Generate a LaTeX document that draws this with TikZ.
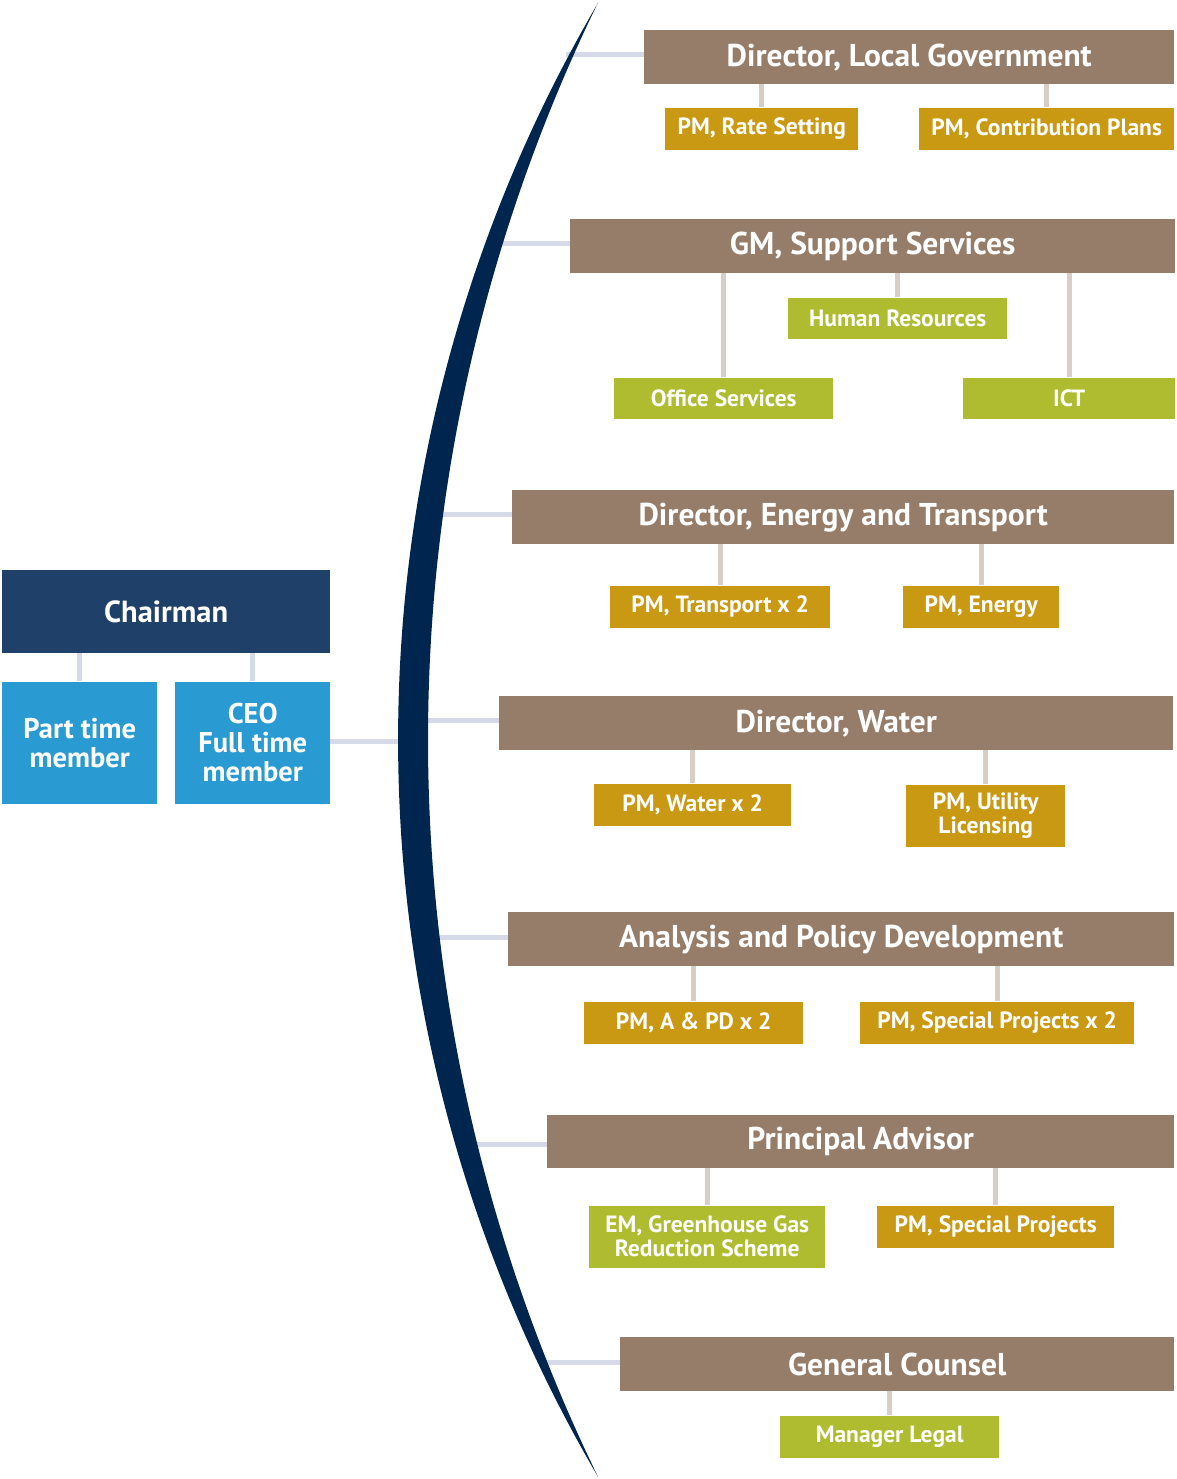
\documentclass[tikz,border=0pt]{standalone}
\usepackage{fontspec}
\setmainfont{PT Sans}
\usetikzlibrary{positioning}

\definecolor{chairnavy}{HTML}{1F4068}
\definecolor{memberblue}{HTML}{2A9AD2}
\definecolor{arcnavy}{HTML}{00264F}
\definecolor{headbrown}{HTML}{967D6A}
\definecolor{pmgold}{HTML}{C99914}
\definecolor{unitgreen}{HTML}{B0BC30}
\definecolor{tielav}{HTML}{D6D9E8}
\definecolor{tiebeige}{HTML}{D8CEC8}

\tikzset{
  box/.style={inner sep=0pt, text=white, align=center, font=\bfseries},
  head/.style={box, fill=headbrown, anchor=north west, minimum height=54pt,
    font=\bfseries\fontsize{31.5}{33}\selectfont},
  pm/.style={box, fill=pmgold, minimum height=42pt,
    font=\bfseries\fontsize{23.5}{24}\selectfont},
  unit/.style={pm, fill=unitgreen},
  member/.style={box, fill=memberblue, minimum width=155pt, minimum height=122pt,
    font=\bfseries\fontsize{28.5}{29}\selectfont},
  lavtie/.style={draw=tielav, line width=5pt},
  beigetie/.style={draw=tiebeige, line width=5pt}
}

\begin{document}
\begin{tikzpicture}[x=1pt, y=-1pt]
  \useasboundingbox (0,0) rectangle (1176,1479);

  % Board
  \node[box, fill=chairnavy, anchor=north west, minimum width=328pt, minimum height=83pt,
        font=\bfseries\fontsize{30.5}{32}\selectfont] (chair) at (2,570) {Chairman};
  \node[member, below right=28pt and 0pt of chair.south west] (part) {Part time\\member};
  \node[member, below right=28pt and 173pt of chair.south west] (ceo) {CEO\\Full time\\member};

  % Divisions
  \node[head, minimum width=530pt] (lg) at (644,30) {Director, Local Government};
  \node[head, minimum width=605pt] (ss) at (570,219) {GM, Support Services};
  \node[head, minimum width=662pt] (et) at (512,490) {Director, Energy and Transport};
  \node[head, minimum width=674pt] (wa) at (499,696) {Director, Water};
  \node[head, minimum width=666pt] (ap) at (508,912) {Analysis and Policy Development};
  \node[head, minimum width=627pt, minimum height=53pt] (pa) at (547,1115) {Principal Advisor};
  \node[head, minimum width=554pt] (gc) at (620,1337) {General Counsel};

  % Units
  \node[pm, minimum width=193pt, below right=23pt and 21pt of lg.south west] (lg1) {PM, Rate Setting};
  \node[pm, minimum width=255pt, below right=23pt and 275pt of lg.south west] (lg2) {PM, Contribution Plans};
  \node[unit, minimum width=219pt, minimum height=41pt, below right=24pt and 218pt of ss.south west] (ss1) {Human Resources};
  \node[unit, minimum width=219pt, minimum height=41pt, below right=104pt and 44pt of ss.south west] (ss2) {Office Services};
  \node[unit, minimum width=212pt, minimum height=41pt, below right=104pt and 393pt of ss.south west] (ss3) {ICT};
  \node[pm, minimum width=220pt, below right=41pt and 98pt of et.south west] (et1) {PM, Transport x 2};
  \node[pm, minimum width=156pt, below right=41pt and 391pt of et.south west] (et2) {PM, Energy};
  \node[pm, minimum width=197pt, below right=33pt and 95pt of wa.south west] (wa1) {PM, Water x 2};
  \node[pm, minimum width=159pt, minimum height=62pt, below right=34pt and 407pt of wa.south west] (wa2) {PM, Utility\\Licensing};
  \node[pm, minimum width=219pt, below right=35pt and 76pt of ap.south west] (ap1) {PM, A \& PD x 2};
  \node[pm, minimum width=274pt, below right=35pt and 352pt of ap.south west] (ap2) {PM, Special Projects x 2};
  \node[unit, minimum width=236pt, minimum height=62pt, below right=37pt and 42pt of pa.south west] (pa1) {EM, Greenhouse Gas\\Reduction Scheme};
  \node[pm, minimum width=237pt, below right=37pt and 330pt of pa.south west] (pa2) {PM, Special Projects};
  \node[unit, minimum width=219pt, below right=24pt and 160pt of gc.south west] (gc1) {Manager Legal};

  % Points on the arc
  \coordinate (a0) at (410,741);
  \coordinate (a1) at (566,55);
  \coordinate (a2) at (495,244);
  \coordinate (a3) at (435,514);
  \coordinate (a4) at (420,720);
  \coordinate (a5) at (432,937);
  \coordinate (a6) at (469,1144);
  \coordinate (a7) at (539,1362);

  % Edges
  \draw[lavtie] (part.north) -- (part.north |- chair.south);
  \draw[lavtie] (ceo.north) -- (ceo.north |- chair.south);
  \draw[lavtie] (ceo.east |- a0) -- (a0);
  \draw[lavtie] (a1) -- (a1 -| lg.west);
  \draw[lavtie] (a2) -- (a2 -| ss.west);
  \draw[lavtie] (a3) -- (a3 -| et.west);
  \draw[lavtie] (a4) -- (a4 -| wa.west);
  \draw[lavtie] (a5) -- (a5 -| ap.west);
  \draw[lavtie] (a6) -- (a6 -| pa.west);
  \draw[lavtie] (a7) -- (a7 -| gc.west);
  \foreach \u/\h in {lg1/lg, lg2/lg, ss1/ss, ss2/ss, ss3/ss, et1/et, et2/et,
                     wa1/wa, wa2/wa, ap1/ap, ap2/ap, pa1/pa, pa2/pa, gc1/gc}
    \draw[beigetie] (\u.north) -- (\u.north |- \h.south);

  % Arc
  \fill[arcnavy] (598,3) arc[start angle=210.36, end angle=149.64, radius=1458]
    arc[start angle=154.02, end angle=205.98, radius=1682.6] -- cycle;

\end{tikzpicture}
\end{document}
